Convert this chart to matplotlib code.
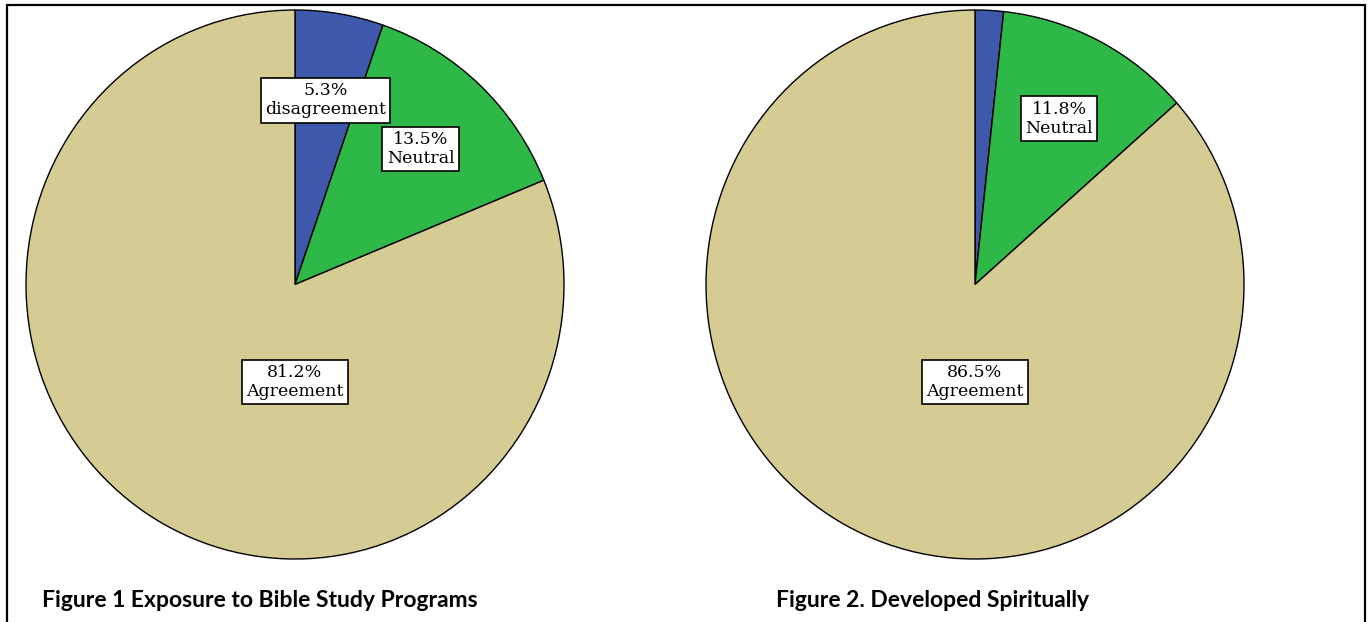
import numpy as np
import matplotlib.pyplot as plt
from matplotlib.patches import Rectangle

categories = ['disagreement', 'Neutral', 'Agreement']
fig1_values = [5.3, 13.5, 81.2]
fig2_values = [1.7, 11.8, 86.5]
fig2_labels = [None, 'Neutral', 'Agreement']
titles = ['Figure 1 Exposure to Bible Study Programs', 'Figure 2. Developed Spiritually']

colors = ['#3E58AC', '#2EB848', '#D4CC93']

W, H = 1372, 622
fig = plt.figure(figsize=(W / 100, H / 100), dpi=100)
fig.patches.append(Rectangle((7 / W, -0.05), 1358 / W, 1.05 - 5 / H,
                             transform=fig.transFigure, fill=False,
                             edgecolor='black', linewidth=1.6))

rx, ry = 269, 274.5
centers = [(295, 284.5), (975, 284.5)]


def draw_pie(ax, values, labels):
    wedges, _ = ax.pie(values, colors=colors, startangle=90, counterclock=False,
                       radius=1, wedgeprops=dict(edgecolor='black', linewidth=1))
    ax.set_aspect('auto')
    ax.set_xlim(-1, 1)
    ax.set_ylim(-1, 1)
    ax.axis('off')
    big = int(np.argmax(values))
    for i, (w, v, lab) in enumerate(zip(wedges, values, labels)):
        if lab is None:
            continue
        if i == big:
            x, y = 0, -0.355
        else:
            ang = np.deg2rad((w.theta1 + w.theta2) / 2)
            x, y = 0.68 * np.cos(ang), 0.68 * np.sin(ang)
        ax.text(x, y, f'{v}%\n{lab}', ha='center', va='center', fontsize=12.5,
                family='DejaVu Serif', linespacing=1.15,
                bbox=dict(boxstyle='square,pad=0.25', facecolor='white',
                          edgecolor='black', linewidth=1.2))


for (cx, cy), vals, labs, title, tx in zip(centers, [fig1_values, fig2_values],
                                             [categories, fig2_labels], titles,
                                             [42, 776]):
    ax = fig.add_axes([(cx - rx) / W, (H - cy - ry) / H, 2 * rx / W, 2 * ry / H])
    draw_pie(ax, vals, labs)
    fig.text(tx / W, 1 - 607 / H, title, ha='left', va='baseline',
             fontsize=16.5, fontweight='bold', family='Lato')

fig.savefig('out.png', dpi=100)
